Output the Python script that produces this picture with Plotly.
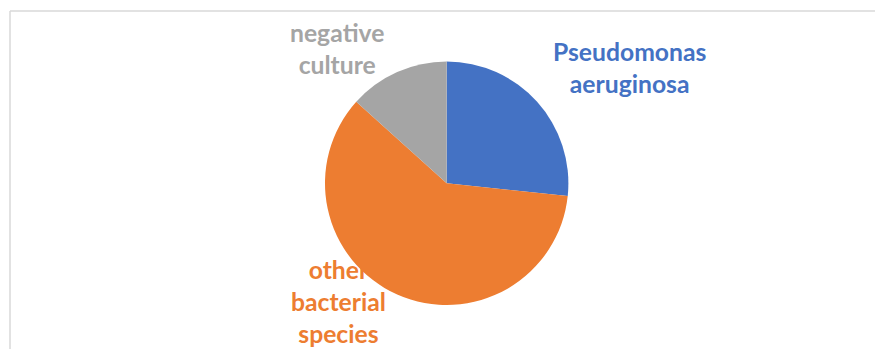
import plotly.graph_objects as go

categories = ["Pseudomonas aeruginosa", "other bacterial species", "negative culture"]
values = [4, 9, 2]
colors = ["#4472C4", "#ED7D31", "#A5A5A5"]
label_lines = ["Pseudomonas<br>aeruginosa", "other<br>bacterial<br>species", "nega\u200ctive<br>culture"]

W, H = 875, 349

fig = go.Figure(go.Pie(
    labels=categories,
    values=values,
    sort=False,
    direction="clockwise",
    rotation=0,
    marker=dict(colors=colors, line=dict(width=0)),
    textinfo="none",
    hoverinfo="label+percent",
    showlegend=False,
    domain=dict(x=[0.021, 1.0], y=[0.1261, 0.8235]),
))

label_pos = [(629, 67), (338, 301), (337, 49)]
for txt, col, (px, py) in zip(label_lines, colors, label_pos):
    fig.add_annotation(
        x=px / W, y=1 - py / H, xref="paper", yref="paper",
        text="<b>" + txt + "</b>", showarrow=False,
        font=dict(family="Lato", size=24.7, color=col),
        xanchor="center", yanchor="middle", align="center",
    )

fig.add_shape(type="line", xref="paper", yref="paper",
              x0=10 / W, x1=1.0, y0=1 - 11 / H, y1=1 - 11 / H,
              line=dict(color="#D9D9D9", width=1.5))
fig.add_shape(type="line", xref="paper", yref="paper",
              x0=10 / W, x1=10 / W, y0=0, y1=1 - 11 / H,
              line=dict(color="#D9D9D9", width=1.5))

fig.update_layout(
    width=W, height=H,
    margin=dict(l=0, r=0, t=0, b=0),
    paper_bgcolor="white", plot_bgcolor="white",
)

fig.write_html("out.html")
